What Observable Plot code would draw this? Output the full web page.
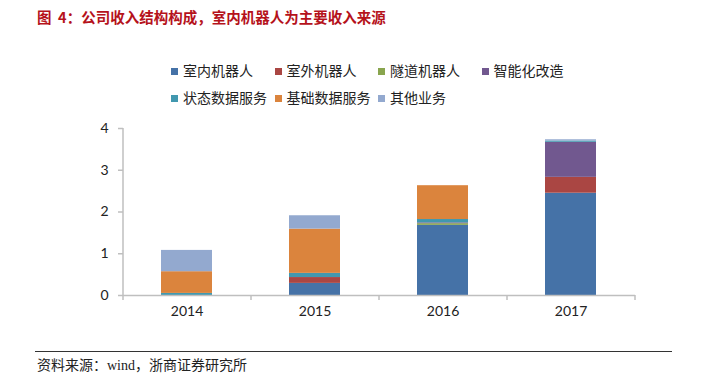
<!DOCTYPE html>
<html>
<head>
<meta charset="utf-8">
<script src="https://cdn.jsdelivr.net/npm/d3@7"></script>
<script src="https://cdn.jsdelivr.net/npm/@observablehq/plot@0.6"></script>
<style>
  body { margin:0; width:709px; height:376px; overflow:hidden; background:#fff; font-family:"Noto Sans CJK SC", sans-serif; }
  #title { height:34px; line-height:34px; padding-left:37px; font-size:14.5px; font-weight:bold; color:#b5121b; white-space:nowrap; }
  #legend { position:relative; height:76px; }
  .item { position:absolute; height:20px; line-height:20px; font-size:14px; color:#222; white-space:nowrap; }
  .sw { display:inline-block; width:7px; height:7px; margin-right:5px; vertical-align:middle; position:relative; top:-1px; }
  #chart { height:230px; }
  #caption { position:relative; height:36px; }
  #rule { position:absolute; left:35px; width:637px; top:11px; border-top:1px solid #333; }
  #src { position:absolute; left:37px; top:17px; line-height:18px; font-size:14px; color:#222; font-family:"Liberation Serif","Noto Sans CJK SC",serif; white-space:nowrap; }
</style>
</head>
<body>
<div id="title">图&nbsp;&nbsp;4：公司收入结构构成，室内机器人为主要收入来源</div>
<div id="legend"></div>
<div id="chart"></div>
<div id="caption"><div id="rule"></div><div id="src">资料来源：wind，浙商证券研究所</div></div>
<script>
const years = ["2014", "2015", "2016", "2017"];
const seriesNames = ["室内机器人", "室外机器人", "隧道机器人", "智能化改造", "状态数据服务", "基础数据服务", "其他业务"];
const indoorRobot   = [0.00, 0.29, 1.68, 2.45];
const outdoorRobot  = [0.00, 0.14, 0.00, 0.38];
const tunnelRobot   = [0.00, 0.00, 0.04, 0.00];
const smartRetrofit = [0.00, 0.00, 0.02, 0.84];
const stateData     = [0.05, 0.10, 0.08, 0.03];
const baseData      = [0.52, 1.06, 0.81, 0.00];
const otherBiz      = [0.51, 0.32, 0.00, 0.03];
const yTicks = [0, 1, 2, 3, 4];
const colors = ["#4572a7", "#aa4643", "#89a54e", "#71588f", "#4198af", "#db843d", "#93a9cf"];

const seriesValues = [indoorRobot, outdoorRobot, tunnelRobot, smartRetrofit, stateData, baseData, otherBiz];
const data = years.flatMap((year, i) => seriesNames.map((s, j) => ({year, series: s, value: seriesValues[j][i]})));

// legend
const legend = document.getElementById("legend");
const rows = [[0, 1, 2, 3], [4, 5, 6]];
rows.forEach((row, r) => {
  row.forEach((j, k) => {
    const el = document.createElement("div");
    el.className = "item";
    el.style.left = (171 + k * 103.5) + "px";
    el.style.top = (r === 0 ? 26 : 53) + "px";
    el.innerHTML = `<span class="sw" style="background:${colors[j]}"></span>${seriesNames[j]}`;
    legend.appendChild(el);
  });
});

const W = 709, mL = 123, mR = 74;
const step = (W - mL - mR) / years.length;
const gray = "#bfbfbf";

const chart = Plot.plot({
  width: W,
  height: 230,
  marginTop: 18,
  marginBottom: 45,
  marginLeft: mL,
  marginRight: mR,
  style: {fontFamily: "Lato, sans-serif", fontSize: "13.5px", color: "#222", background: "white"},
  x: {domain: years, paddingInner: 0.6, paddingOuter: 0.3, label: null},
  y: {domain: [0, 4], label: null},
  color: {domain: seriesNames, range: colors},
  marks: [
    Plot.barY(data, {x: "year", y: "value", fill: "series", order: seriesNames}),
    Plot.ruleY([0], {stroke: gray, strokeWidth: 1.5}),
    Plot.ruleX([years[0]], {dx: -step / 2, stroke: gray, strokeWidth: 1.5}),
    Plot.ruleX(years, {y1: 0, y2: 0, dx: -step / 2, insetBottom: -5, stroke: gray, strokeWidth: 1.5}),
    Plot.ruleX([years[years.length - 1]], {y1: 0, y2: 0, dx: step / 2, insetBottom: -5, stroke: gray, strokeWidth: 1.5}),
    Plot.axisY({ticks: yTicks, tickSize: 5, tickPadding: 10, stroke: gray, strokeWidth: 1.5, tickFormat: d3.format("d"), fontSize: 14}),
    Plot.axisX({tickSize: 0, tickPadding: 11, fontSize: 14})
  ]
});
document.getElementById("chart").appendChild(chart);
</script>
</body>
</html>
